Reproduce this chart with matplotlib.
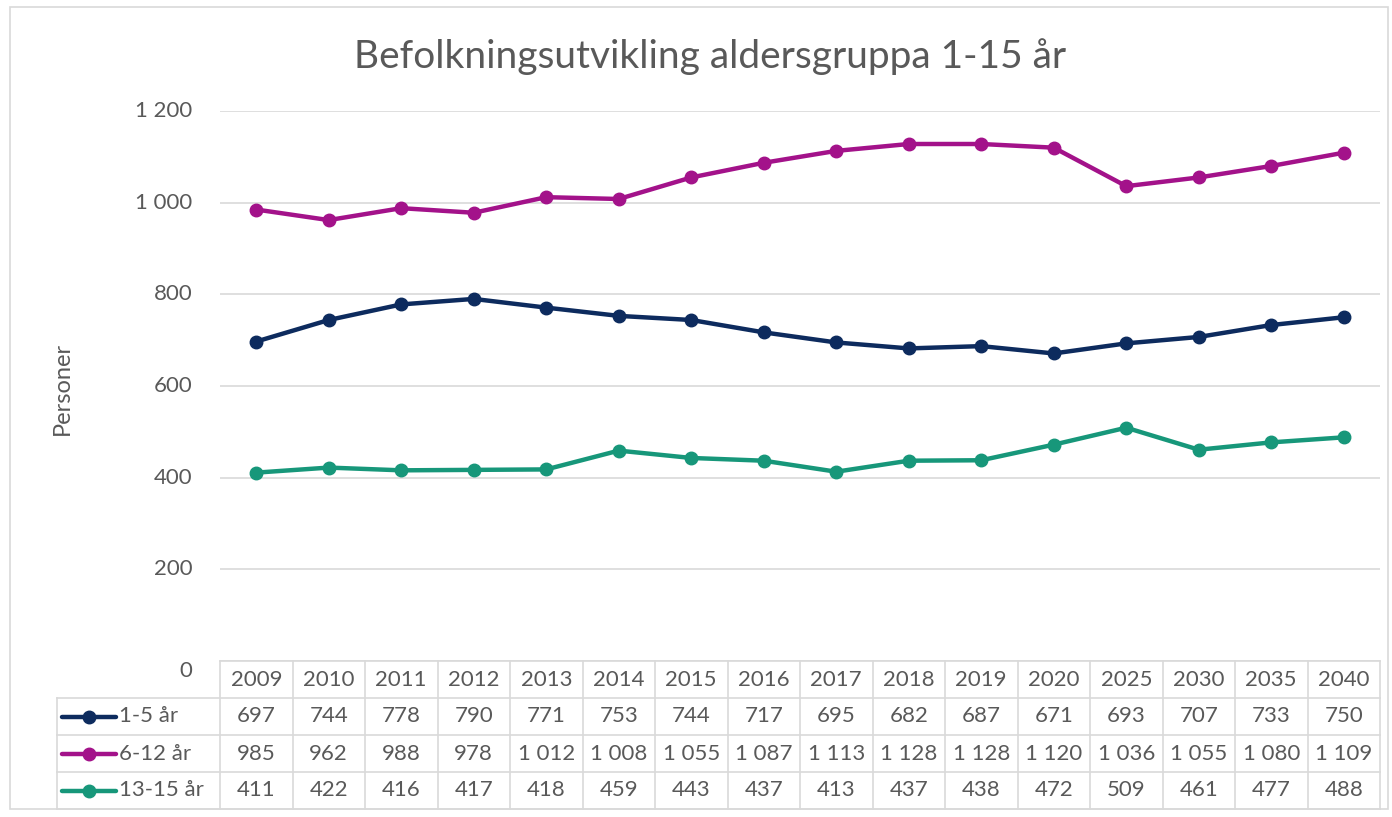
import matplotlib.pyplot as plt
import matplotlib.transforms as mtransforms
from matplotlib.lines import Line2D
from matplotlib.patches import Rectangle

plt.rcParams['font.family'] = ['Lato', 'DejaVu Sans']

years = ['2009', '2010', '2011', '2012', '2013', '2014', '2015', '2016',
         '2017', '2018', '2019', '2020', '2025', '2030', '2035', '2040']
age_1_5 = [697, 744, 778, 790, 771, 753, 744, 717, 695, 682, 687, 671, 693, 707, 733, 750]
age_6_12 = [985, 962, 988, 978, 1012, 1008, 1055, 1087, 1113, 1128, 1128, 1120, 1036, 1055, 1080, 1109]
age_13_15 = [411, 422, 416, 417, 418, 459, 443, 437, 413, 437, 438, 472, 509, 461, 477, 488]
series_names = ['1-5 år', '6-12 år', '13-15 år']
colors = ['#0D2B5E', '#A3128A', '#17977A']

TEXT = '#595959'
GRID = '#D9D9D9'
FS = 16


def fmt(v):
    # space as thousands separator, Norwegian style
    return f'{v:,}'.replace(',', ' ')


W, H = 1392, 817
fig = plt.figure(figsize=(W / 100, H / 100), dpi=100)
ax = fig.add_axes([220 / W, 1 - 661 / H, 1160 / W, 550 / H])

series = [age_1_5, age_6_12, age_13_15]
x = list(range(len(years)))
for vals, c in zip(series, colors):
    ax.plot(x, vals, color=c, lw=3.2, marker='o', ms=9, solid_capstyle='round', zorder=3)

ax.set_xlim(-0.5, len(years) - 0.5)
ax.set_ylim(0, 1200)
ax.set_yticks(range(0, 1201, 200))
ax.set_yticklabels([fmt(v) for v in range(0, 1201, 200)])
ax.yaxis.grid(True, color=GRID, lw=1.2)
ax.set_axisbelow(True)
ax.set_xticks([])
for s in ax.spines.values():
    s.set_visible(False)
ax.tick_params(axis='y', length=0, pad=20, labelsize=FS, labelcolor=TEXT)
for lab in ax.get_yticklabels():
    lab.set_verticalalignment('top' if lab.get_text() == '0' else 'center')

fig.text(62 / W, 1 - 388 / H, 'Personer', rotation=90, ha='center', va='center',
         fontsize=17, color=TEXT)
fig.text(0.510, 1 - 57 / H, 'Befolkningsutvikling aldersgruppa 1-15 år', ha='center',
         va='center', fontsize=28, color=TEXT)

# data table under the axes
trans = mtransforms.blended_transform_factory(ax.transData, ax.transAxes)
row_h = 37 / 550
n = len(years)
left_lab = (57 - 220) / 1160 * n - 0.5  # legend column left edge in data units

kw = dict(transform=trans, clip_on=False, color=GRID, lw=1.2)
# horizontal lines
ax.add_line(Line2D([-0.5, n - 0.5], [0, 0], **kw))
for r in range(1, 5):
    ax.add_line(Line2D([left_lab, n - 0.5], [-r * row_h, -r * row_h], **kw))
# vertical lines
for i in range(n + 1):
    ax.add_line(Line2D([i - 0.5, i - 0.5], [0, -4 * row_h], **kw))
ax.add_line(Line2D([left_lab, left_lab], [-row_h, -4 * row_h], **kw))

for i, yr in enumerate(years):
    ax.text(i, -0.5 * row_h, yr, transform=trans, ha='center', va='center',
            fontsize=FS, color=TEXT)
for r, (vals, name, c) in enumerate(zip(series, series_names, colors)):
    yc = -(r + 1.5) * row_h
    for i, v in enumerate(vals):
        ax.text(i, yc, fmt(v), transform=trans, ha='center', va='center',
                fontsize=FS, color=TEXT)
    x0 = left_lab + 0.07
    ax.add_line(Line2D([x0, x0 + 0.75], [yc, yc], transform=trans, clip_on=False,
                       color=c, lw=3.2, solid_capstyle='round'))
    ax.add_line(Line2D([x0 + 0.375], [yc], transform=trans, clip_on=False,
                       color=c, marker='o', ms=9))
    ax.text(x0 + 0.78, yc, name, transform=trans, ha='left', va='center',
            fontsize=FS, color=TEXT)

fig.patches.append(Rectangle((10 / W, 8 / H), 1378 / W, 802 / H, transform=fig.transFigure,
                             fill=False, edgecolor=GRID, lw=1.2))

fig.savefig('out.png', dpi=100)
